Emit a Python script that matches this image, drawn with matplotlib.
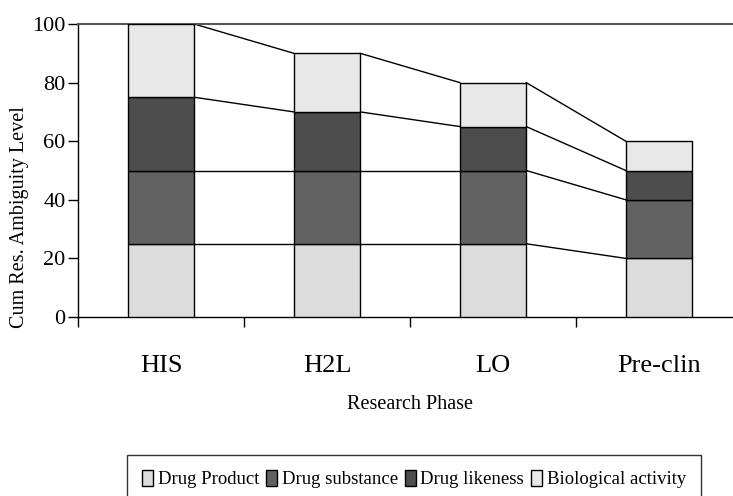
import numpy as np
import matplotlib.pyplot as plt
from matplotlib.patches import Patch

plt.rcParams['font.family'] = ['Liberation Serif', 'DejaVu Serif']

phases = ['HIS', 'H2L', 'LO', 'Pre-clin']
series = ['Drug Product', 'Drug substance', 'Drug likeness', 'Biological activity']
drug_product = [25, 25, 25, 20]
drug_substance = [25, 25, 25, 20]
drug_likeness = [25, 20, 15, 10]
bio_activity = [25, 20, 15, 10]
colors = ['#dcdcdc', '#626262', '#4d4d4d', '#e8e8e8']

values = [drug_product, drug_substance, drug_likeness, bio_activity]
x = np.arange(len(phases))
w = 0.4

fig = plt.figure(figsize=(7.33, 4.96), dpi=100)
ax = fig.add_axes([78 / 733, 1 - 317 / 496, 664 / 733, 293 / 496])

bottom = np.zeros(len(phases))
for vals, name, col in zip(values, series, colors):
    vals = np.array(vals, dtype=float)
    ax.bar(x, vals, w, bottom=bottom, color=col, edgecolor='black', linewidth=1, label=name, zorder=3)
    top = bottom + vals
    # series lines between bars (Excel style)
    for i in range(len(phases) - 1):
        ax.plot([x[i] + w / 2, x[i + 1] - w / 2], [top[i], top[i + 1]], color='black', lw=1, zorder=2)
    bottom = top

ax.set_xlim(-0.5, 3.5)
ax.set_ylim(0, 100)
ax.set_yticks([0, 20, 40, 60, 80, 100])
ax.tick_params(axis='y', labelsize=16, length=7, width=1, direction='out', pad=2)

ax.set_xticks([-0.5, 0.5, 1.5, 2.5, 3.5])
ax.set_xticklabels([])
ax.tick_params(axis='x', which='major', length=7, width=1, direction='out')
ax.set_xticks(x, minor=True)
ax.set_xticklabels(phases, minor=True, fontsize=19)
ax.tick_params(axis='x', which='minor', length=0, pad=27)

ax.spines['right'].set_visible(False)
ax.spines['top'].set_color('#555555')
ax.spines['top'].set_linewidth(1.5)
ax.spines['left'].set_linewidth(1)
ax.spines['bottom'].set_linewidth(1)

ax.set_ylabel('Cum Res. Ambiguity Level', fontsize=14.5)
ax.yaxis.set_label_coords(-0.074, 0.34)
ax.set_xlabel('Research Phase', fontsize=14.5)
ax.xaxis.set_label_coords(0.5, -0.265)

handles = [Patch(facecolor=c, edgecolor='black', linewidth=1) for c in colors]
leg = fig.legend(handles, series, loc='upper center', bbox_to_anchor=(414 / 733, 1 - 455 / 496),
                 ncol=4, fontsize=13.5, frameon=True, fancybox=False, borderpad=0.8, borderaxespad=0,
                 handlelength=0.6, handleheight=0.9, handletextpad=0.25, columnspacing=0.35)
leg.get_frame().set_edgecolor('black')
leg.get_frame().set_linewidth(1)

fig.savefig('out.png', dpi=100)
